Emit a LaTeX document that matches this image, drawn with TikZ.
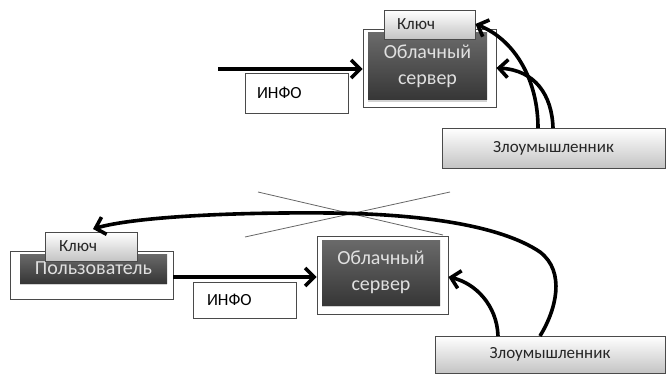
\documentclass[tikz,border=0pt]{standalone}
\usepackage{fontspec}
\setmainfont{Carlito}
\usepackage{tikz}
\usetikzlibrary{arrows.meta, shadows}
\definecolor{darktop}{HTML}{6A6A6A}
\definecolor{darkbot}{HTML}{363636}
\definecolor{lighttop}{HTML}{FFFFFF}
\definecolor{lightbot}{HTML}{C4C4C4}
\definecolor{edgegray}{HTML}{4A4A4A}

\begin{document}
\begin{tikzpicture}[
  x=1pt, y=-1pt,
  frame/.style={draw=edgegray, line width=0.8pt, fill=white, inner sep=0pt},
  darkbox/.style={top color=darktop, bottom color=darkbot, draw=none, inner sep=0pt,
                  text=white!88!black, font=\fontsize{20}{26}\selectfont, align=center,
                  drop shadow={opacity=0.35, shadow xshift=0pt, shadow yshift=-2pt}},
  keybox/.style={top color=lighttop, bottom color=lightbot, draw=edgegray, line width=0.8pt,
                 font=\fontsize{17}{20}\selectfont, text=black!85, inner ysep=0pt},
  infobox/.style={draw=edgegray, line width=0.8pt, fill=white, inner ysep=0pt,
                  font=\fontsize{17}{20}\selectfont, align=left},
  attbox/.style={top color=lighttop, bottom color=lightbot, draw=edgegray, line width=0.8pt,
                 font=\fontsize{17}{20}\selectfont, text=black!85, inner sep=0pt},
  flow/.style={line width=3.6pt, -{Straight Barb[length=9pt, width=18pt]}},
  cross/.style={line width=0.8pt, black!60},
]
\useasboundingbox (0,0) rectangle (666,374);

% top
\node[frame, minimum width=133pt, minimum height=78pt] (srvAout) at (429.5,68) {};
\node[darkbox, minimum width=119pt, minimum height=67pt] (srvA) at (427.5,66.5) {Облачный\\сервер};
\node[keybox, minimum width=91pt, minimum height=29pt, text width=65pt, inner xsep=13pt, align=left] (keyA) at (429.5,24.5) {Ключ};
\node[infobox, minimum width=103pt, minimum height=40pt, text width=79pt, inner xsep=12pt] (infoA) at (296.5,93) {ИНФО};
\node[attbox, minimum width=223pt, minimum height=40pt] (attA) at (553.5,148) {Злоумышленник};
\coordinate (inA) at (218,69);
\coordinate (attA1) at (538,128);
\coordinate (attA2) at (553,128);

\draw[flow] (inA) -- (srvAout.west |- inA);
\draw[flow] (attA1) .. controls (538,80) and (515,40) .. (keyA.east |- 0,24);
\draw[flow] (attA2) .. controls (552,95) and (535,70) .. (srvAout.east |- 0,68);

% bottom
\node[frame, minimum width=163pt, minimum height=48pt] (userout) at (91.5,275) {};
\node[darkbox, minimum width=147pt, minimum height=29pt] (user) at (93.5,268.5) {Пользователь};
\node[keybox, minimum width=92pt, minimum height=29pt, text width=64pt, inner xsep=14pt, align=left] (keyB) at (91,246.5) {Ключ};
\node[infobox, minimum width=103pt, minimum height=36pt, text width=75pt, inner xsep=14pt] (infoB) at (244.5,300) {ИНФО};
\node[frame, minimum width=131pt, minimum height=78pt] (srvBout) at (382.5,275) {};
\node[darkbox, minimum width=118pt, minimum height=65pt] (srvB) at (381,272.5) {Облачный\\сервер};
\node[attbox, minimum width=230pt, minimum height=37pt] (attB) at (550,354.5) {Злоумышленник};
\coordinate (attB1) at (498,336);
\coordinate (attB2) at (540,336);
\coordinate (tipB) at (93,229);

\draw[cross] (258,192) -- (443,235);
\draw[cross] (245,237) -- (450,192);

\draw[flow] (userout.east |- 0,277) -- (srvBout.west |- 0,277);
\draw[flow] (attB1) .. controls (497,305) and (475,283) .. (srvBout.east |- 0,277);
\draw[flow] (attB2) .. controls (556,310) and (566,272) .. (540,252)
  .. controls (500,225) and (420,214) .. (330,213)
  .. controls (220,212) and (130,218) .. (tipB);

\end{tikzpicture}
\end{document}
